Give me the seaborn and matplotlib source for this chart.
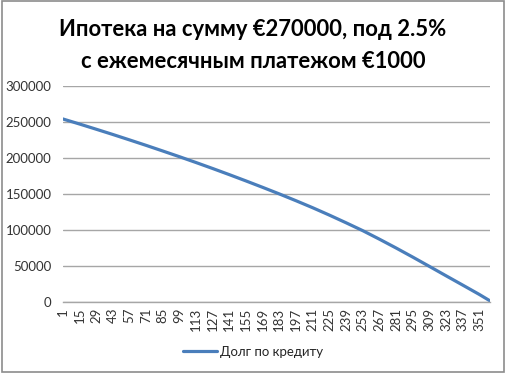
import matplotlib
matplotlib.use("Agg")
import matplotlib.pyplot as plt
import seaborn as sns
import pandas as pd
from matplotlib.patches import Rectangle
from matplotlib.lines import Line2D

# Data (month -> outstanding debt)
months = [1, 15, 29, 43, 57, 71, 85, 99, 113, 127, 141, 155, 169, 183,
          197, 211, 225, 239, 253, 267, 281, 295, 309, 323, 337, 351, 360]
debt = [254000, 247000, 239800, 232500, 225000, 217400, 209600, 201700,
        193600, 185300, 176800, 168100, 159200, 150100, 140700, 131000,
        120800, 110200, 99300, 87500, 75300, 62700, 49800, 36800, 23900,
        10900, 2000]
tick_months = list(range(1, 352, 14))
y_ticks = [0, 50000, 100000, 150000, 200000, 250000, 300000]
series_name = "Долг по кредиту"
title_line1 = "Ипотека на сумму €270000, под 2.5%"
title_line2 = "с ежемесячным платежом €1000"

sns.set_theme(style="white")
plt.rcParams['font.family'] = ['Lato', 'DejaVu Sans']

df = pd.DataFrame({"month": months, "debt": debt, "series": series_name})

fig = plt.figure(figsize=(5.06, 3.73), dpi=100)
ax = fig.add_axes([62.7 / 506, 1 - 302.3 / 373, (490 - 62.7) / 506, (302.3 - 85.7) / 373])

sns.lineplot(data=df, x="month", y="debt", hue="series", palette=["#4A7EBB"],
             linewidth=2.3, ax=ax, legend=False)

ax.set_xlim(1, 360)
ax.set_ylim(0, 300000)
ax.set_yticks(y_ticks)
ax.set_yticklabels([str(v) for v in y_ticks], fontsize=9.5, color="#333333")
ax.set_xticks(tick_months)
ax.set_xticklabels([str(m) for m in tick_months], rotation=90, fontsize=9.5, color="#333333")
ax.tick_params(axis="y", length=0, pad=8)
ax.tick_params(axis="x", length=0, pad=4)
ax.set_xlabel("")
ax.set_ylabel("")
ax.yaxis.grid(True, color="#A6A6A6", linewidth=1.0)
ax.xaxis.grid(False)
for s in ["top", "right", "left"]:
    ax.spines[s].set_visible(False)
ax.spines["bottom"].set_color("#A6A6A6")
ax.spines["bottom"].set_linewidth(1.0)
ax.set_axisbelow(True)

# Legend
handle = Line2D([0], [0], color="#4A7EBB", linewidth=2.3)
fig.legend([handle], [series_name], loc="center", bbox_to_anchor=(253 / 506, 1 - 352 / 373),
           frameon=False, fontsize=9.5, handlelength=2.6, handletextpad=0.2)

fig.text(0.5, 1 - 30 / 373, title_line1, ha="center", va="center",
         fontsize=15.8, fontweight="bold", color="black")
fig.text(0.5, 1 - 62 / 373, title_line2, ha="center", va="center",
         fontsize=15.8, fontweight="bold", color="black")

fig.patches.append(Rectangle((0.004, 0.004), 0.992, 0.992, transform=fig.transFigure,
                             fill=False, edgecolor="#8C8C8C", linewidth=1.2))

fig.savefig("out.png", dpi=100)
